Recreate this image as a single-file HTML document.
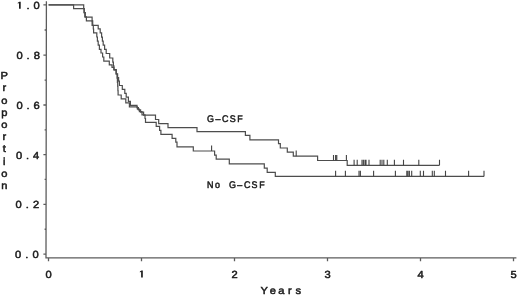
<!DOCTYPE html>
<html><head><meta charset="utf-8"><style>
html,body{margin:0;padding:0;background:#fff;}
body{width:520px;height:296px;overflow:hidden;position:relative;}
svg{position:absolute;left:0;top:0;}
text{font-family:"Liberation Sans",sans-serif;font-weight:normal;fill:#1a1a1a;text-anchor:middle;text-rendering:geometricPrecision;}
path.g{fill:#1a1a1a}
</style></head><body>
<svg width="520" height="296" viewBox="0 0 520 296">
<g fill="none" stroke="#4d4d4d" stroke-width="1.2" stroke-linejoin="miter" stroke-linecap="butt">
<path d="M46.4 1.2 L46.00 257.90 H516.4 M43.4 4.90 H46.39 M43.4 55.10 H46.30 M43.4 105.00 H46.20 M43.4 154.60 H46.10 M43.4 204.30 H46.00 M43.4 254.20 H45.91 M44.6 30.00 H46.34 M44.6 80.05 H46.25 M44.6 129.80 H46.15 M44.6 179.45 H46.05 M44.6 229.25 H45.96 M48.50 257.90 V261.2 M141.50 257.90 V261.2 M234.50 257.90 V261.2 M327.50 257.90 V261.2 M420.50 257.90 V261.2 M513.50 257.90 V261.2 " stroke="#5c5c5c" stroke-width="1.3"/>
<path d="M48.60 4.80 L83.70 4.80 L83.70 8.70 L84.30 8.70 L84.30 12.70 L85.30 12.70 L85.30 17.20 L92.10 17.20 L92.10 20.90 L92.70 20.90 L92.70 25.30 L98.20 25.30 L98.20 28.80 L100.20 28.80 L100.20 32.90 L101.60 32.90 L101.60 37.10 L102.40 37.10 L102.40 41.20 L103.20 41.20 L103.20 45.20 L104.60 45.20 L104.60 49.30 L106.20 49.30 L106.20 53.50 L109.70 53.50 L109.70 58.00 L112.80 58.00 L112.80 62.10 L113.40 62.10 L113.40 65.80 L113.90 65.80 L113.90 69.50 L116.30 69.50 L116.30 73.80 L117.60 73.80 L117.60 77.60 L118.60 77.60 L118.60 81.20 L119.40 81.20 L119.40 85.50 L122.30 85.50 L122.30 89.40 L124.80 89.40 L124.80 93.30 L126.20 93.30 L126.20 97.20 L128.40 97.20 L128.40 101.40 L130.40 101.40 L130.40 105.40 L137.00 105.40 L137.00 107.60 L138.40 107.60 L138.40 109.80 L140.60 109.80 L140.60 112.20 L143.60 112.20 L143.60 115.20 L155.50 115.20 L155.50 119.50 L158.70 119.50 L158.70 123.60 L168.00 123.60 L168.00 127.60 L197.00 127.60 L197.00 131.60 L245.40 131.60 L245.40 135.40 L249.90 135.40 L249.90 139.80 L278.50 139.80 L278.50 143.60 L280.30 143.60 L280.30 148.00 L287.30 148.00 L287.30 152.20 L293.30 152.20 L293.30 156.20 L317.60 156.20 L317.60 160.50 L347.20 160.50 L347.20 165.30 L439.50 165.30"/>
<path d="M48.60 4.80 L73.60 4.80 L73.60 8.70 L84.00 8.70 L84.00 12.70 L84.80 12.70 L84.80 16.80 L86.40 16.80 L86.40 20.80 L92.10 20.80 L92.10 25.30 L93.30 25.30 L93.30 29.00 L93.60 29.00 L93.60 32.80 L96.80 32.80 L96.80 37.00 L97.40 37.00 L97.40 41.10 L98.20 41.10 L98.20 45.20 L99.40 45.20 L99.40 49.30 L101.00 49.30 L101.00 53.00 L102.60 53.00 L102.60 57.00 L103.80 57.00 L103.80 61.10 L109.30 61.10 L109.30 64.80 L112.00 64.80 L112.00 67.40 L114.00 67.40 L114.00 70.20 L116.00 70.20 L116.00 74.00 L117.00 74.00 L117.00 78.20 L117.40 78.20 L117.40 82.30 L117.70 82.30 L117.70 86.30 L117.90 86.30 L117.90 90.60 L118.10 90.60 L118.10 95.00 L121.20 95.00 L121.20 98.80 L125.80 98.80 L125.80 102.80 L129.40 102.80 L129.40 106.80 L137.40 106.80 L137.40 109.20 L139.40 109.20 L139.40 111.60 L142.00 111.60 L142.00 114.80 L145.00 114.80 L145.00 118.50 L145.50 118.50 L145.50 122.30 L156.20 122.30 L156.20 126.30 L159.60 126.30 L159.60 130.30 L160.90 130.30 L160.90 134.30 L172.10 134.30 L172.10 138.30 L175.80 138.30 L175.80 142.20 L177.00 142.20 L177.00 146.80 L193.30 146.80 L193.30 151.00 L214.60 151.00 L214.60 155.20 L216.20 155.20 L216.20 159.20 L229.30 159.20 L229.30 163.80 L264.30 163.80 L264.30 168.20 L267.20 168.20 L267.20 172.30 L275.30 172.30 L275.30 176.40 L484.00 176.40"/>
<path d="M296.20 156.20 V150.60 M333.50 160.50 V154.90 M335.60 160.50 V154.90 M336.80 160.50 V154.90 M346.40 160.50 V154.90 M354.10 165.30 V159.70 M357.20 165.30 V159.70 M362.00 165.30 V159.70 M363.40 165.30 V159.70 M365.00 165.30 V159.70 M366.00 165.30 V159.70 M369.00 165.30 V159.70 M380.20 165.30 V159.70 M382.00 165.30 V159.70 M383.80 165.30 V159.70 M387.30 165.30 V159.70 M394.40 165.30 V159.70 M403.50 165.30 V159.70 M418.80 165.30 V159.70 M439.50 165.30 V159.70 M211.60 151.00 V145.40 M335.60 176.40 V170.80 M345.40 176.40 V170.80 M359.00 176.40 V170.80 M360.40 176.40 V170.80 M373.60 176.40 V170.80 M395.40 176.40 V170.80 M406.80 176.40 V170.80 M408.00 176.40 V170.80 M409.40 176.40 V170.80 M411.70 176.40 V170.80 M420.30 176.40 V170.80 M423.50 176.40 V170.80 M432.30 176.40 V170.80 M434.30 176.40 V170.80 M445.50 176.40 V170.80 M468.60 176.40 V170.80 M484.00 176.40 V170.80 " stroke-linecap="butt" stroke="#444" stroke-width="1.1"/>
</g>
<g style="will-change:transform" fill="#1a1a1a" stroke="#1a1a1a" stroke-width="0.5" stroke-linejoin="round"><path transform="translate(16.307 8.800) scale(0.00543 -0.00503)" d="M500 0L810 0L810 1409L570 1409L270 1190L270 1010L500 1170Z"/><text transform="translate(27.95 8.80) scale(1.0800 1)" font-size="10.30">.</text><text transform="translate(36.50 8.80) scale(1.0800 1)" font-size="10.30">0</text><text transform="translate(19.55 59.00) scale(1.0800 1)" font-size="10.30">0</text><text transform="translate(28.15 59.00) scale(1.0800 1)" font-size="10.30">.</text><text transform="translate(36.75 59.00) scale(1.0800 1)" font-size="10.30">8</text><text transform="translate(19.50 108.90) scale(1.0800 1)" font-size="10.30">0</text><text transform="translate(28.05 108.90) scale(1.0800 1)" font-size="10.30">.</text><text transform="translate(36.60 108.90) scale(1.0800 1)" font-size="10.30">6</text><text transform="translate(19.00 158.50) scale(1.0800 1)" font-size="10.30">0</text><text transform="translate(27.60 158.50) scale(1.0800 1)" font-size="10.30">.</text><text transform="translate(36.20 158.50) scale(1.0800 1)" font-size="10.30">4</text><text transform="translate(18.50 208.20) scale(1.0800 1)" font-size="10.30">0</text><text transform="translate(27.30 208.20) scale(1.0800 1)" font-size="10.30">.</text><text transform="translate(36.10 208.20) scale(1.0800 1)" font-size="10.30">2</text><text transform="translate(18.20 258.10) scale(1.0800 1)" font-size="10.30">0</text><text transform="translate(26.85 258.10) scale(1.0800 1)" font-size="10.30">.</text><text transform="translate(35.50 258.10) scale(1.0800 1)" font-size="10.30">0</text><text transform="translate(48.50 277.60) scale(1.0800 1)" font-size="10.30">0</text><path transform="translate(138.407 277.600) scale(0.00543 -0.00503)" d="M500 0L810 0L810 1409L570 1409L270 1190L270 1010L500 1170Z"/><text transform="translate(234.50 277.60) scale(1.0800 1)" font-size="10.30">2</text><text transform="translate(327.50 277.60) scale(1.0800 1)" font-size="10.30">3</text><text transform="translate(420.50 277.60) scale(1.0800 1)" font-size="10.30">4</text><text transform="translate(513.50 277.60) scale(1.0800 1)" font-size="10.30">5</text><text transform="translate(264.20 294.20) scale(1.0800 1)" font-size="10.30">Y</text><text transform="translate(272.75 294.20) scale(1.0800 1)" font-size="10.30">e</text><text transform="translate(281.30 294.20) scale(1.0800 1)" font-size="10.30">a</text><text transform="translate(289.85 294.20) scale(1.0800 1)" font-size="10.30">r</text><text transform="translate(298.40 294.20) scale(1.0800 1)" font-size="10.30">s</text><text transform="translate(4.30 78.60) scale(1.0800 1)" font-size="10.30">P</text><text transform="translate(4.30 90.80) scale(1.0800 1)" font-size="10.30">r</text><text transform="translate(4.30 103.50) scale(1.0800 1)" font-size="10.30">o</text><text transform="translate(4.30 115.70) scale(1.0800 1)" font-size="10.30">p</text><text transform="translate(4.30 127.70) scale(1.0800 1)" font-size="10.30">o</text><text transform="translate(4.30 140.00) scale(1.0800 1)" font-size="10.30">r</text><text transform="translate(4.30 152.30) scale(1.0800 1)" font-size="10.30">t</text><text transform="translate(4.30 164.50) scale(1.0800 1)" font-size="10.30">i</text><text transform="translate(4.30 177.20) scale(1.0800 1)" font-size="10.30">o</text><text transform="translate(4.30 188.80) scale(1.0800 1)" font-size="10.30">n</text><text transform="translate(210.50 122.20) scale(0.9300 1)" font-size="9.60">G</text><text transform="translate(217.90 122.20) scale(0.9300 1)" font-size="9.60">–</text><text transform="translate(225.30 122.20) scale(0.9300 1)" font-size="9.60">C</text><text transform="translate(232.70 122.20) scale(0.9300 1)" font-size="9.60">S</text><text transform="translate(240.10 122.20) scale(0.9300 1)" font-size="9.60">F</text><text transform="translate(210.20 188.40) scale(0.9300 1)" font-size="9.60">N</text><text transform="translate(217.60 188.40) scale(0.9300 1)" font-size="9.60">o</text><text transform="translate(232.40 188.40) scale(0.9300 1)" font-size="9.60">G</text><text transform="translate(239.80 188.40) scale(0.9300 1)" font-size="9.60">–</text><text transform="translate(247.20 188.40) scale(0.9300 1)" font-size="9.60">C</text><text transform="translate(254.60 188.40) scale(0.9300 1)" font-size="9.60">S</text><text transform="translate(262.00 188.40) scale(0.9300 1)" font-size="9.60">F</text></g>
</svg>
</body></html>
